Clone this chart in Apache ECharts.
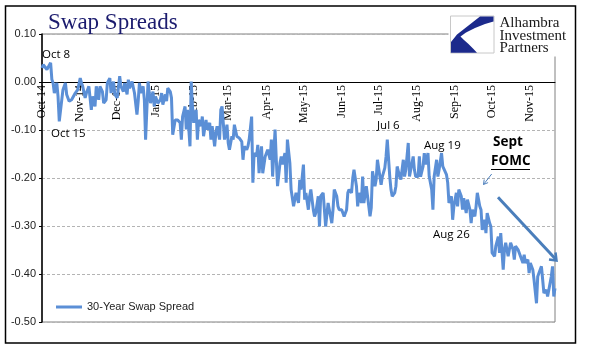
<!DOCTYPE html>
<html><head><meta charset="utf-8">
<script src="https://cdn.jsdelivr.net/npm/echarts@6/dist/echarts.min.js"></script>
<style>html,body{margin:0;padding:0;background:#fff}#c{width:598px;height:361px}</style>
</head><body><div id="c"></div>
<script>
// ---- data ----
const seriesName = '30-Year Swap Spread';
const baseDate = '2014-10-01';           // observation dates are stored as days after this date
const dayOffset = [0,1,4,7,8,9,10,12,13,14,17,18,19,20,22,24,25,27,29,31,32,33,35,36,38,40,41,43,44,46,47,49,50,52,53,55,56,58,59,61,63,64,66,67,69,70,71,73,75,77,78,
79,80,82,83,84,86,87,88,90,91,92,94,96,97,98,100,101,102,104,105,106,108,109,110,112,113,114,116,117,118,120,121,122,123,125,126,127,129,130,131,133,134,136,137,138,140,141,142,144,
145,146,147,148,150,151,152,154,155,156,158,159,160,162,163,164,166,167,168,170,171,172,174,175,176,178,179,181,182,183,185,186,187,189,190,191,193,194,195,197,198,199,201,202,204,205,206,208,209,210,212,213,214,216,217,218,220,221,222,224,225,
226,228,229,230,232,233,235,236,237,239,240,241,243,244,245,247,248,249,251,252,253,255,256,257,259,260,261,263,264,266,267,268,270,271,272,274,275,276,278,279,280,282,283,284,286,287,288,290,
291,293,294,295,297,298,299,301,302,303,305,306,307,309,310,311,313,314,316,317,318,320,321,322,324,325,326,328,329,330,332,333,334,336,337,338,340,341,342,344,345,347,348,349,351,352,353,355,356,357,359,360,361,363,364,
365,367,368,370,371,372,374,375,376,378,379,380,382,383,384,386,387,388,390,391,392,394,395,396,398,399,401,402,403,405,406,407,409,410,411,413,414,415,416];
const spread = [0.029,0.036,0.026,0.040,0.005,-0.002,-0.023,-0.002,-0.030,-0.082,-0.016,-0.009,-0.002,-0.026,-0.040,-0.037,-0.040,-0.023,-0.016,0.008,-0.002,-0.009,-0.033,-0.023,-0.009,-0.058,-0.030,-0.051,-0.009,-0.037,-0.009,-0.020,-0.044,-0.037,-0.002,0.008,-0.023,0.001,-0.026,-0.033,0.012,-0.009,-0.020,-0.002,-0.026,0.005,-0.013,0.001,-0.023,-0.068,-0.040,
-0.002,-0.023,-0.009,-0.037,-0.120,0.001,-0.023,-0.044,-0.020,-0.051,-0.030,-0.044,-0.037,-0.023,-0.047,-0.026,-0.040,-0.013,-0.020,-0.033,-0.110,-0.079,-0.082,-0.079,-0.085,-0.120,-0.072,-0.051,-0.099,-0.058,-0.134,0.001,-0.051,-0.085,-0.058,-0.120,-0.079,-0.092,-0.072,-0.113,-0.079,-0.099,-0.085,-0.120,-0.092,-0.134,-0.106,-0.092,-0.120,
-0.058,-0.051,-0.085,-0.120,-0.089,-0.127,-0.141,-0.113,-0.120,-0.089,-0.113,-0.113,-0.117,-0.124,-0.162,-0.134,-0.141,-0.134,-0.120,-0.072,-0.210,-0.148,-0.155,-0.131,-0.190,-0.134,-0.190,-0.155,-0.158,-0.141,-0.162,-0.120,-0.197,-0.099,-0.162,-0.217,-0.169,-0.155,-0.172,-0.148,-0.210,-0.120,-0.169,-0.224,-0.259,-0.245,-0.231,-0.252,-0.204,-0.224,-0.172,-0.245,-0.231,-0.266,-0.238,-0.224,-0.266,-0.280,-0.273,-0.238,-0.301,
-0.238,-0.231,-0.266,-0.301,-0.252,-0.266,-0.294,-0.266,-0.224,-0.238,-0.259,-0.266,-0.266,-0.273,-0.280,-0.266,-0.231,-0.224,-0.231,-0.200,-0.183,-0.217,-0.259,-0.231,-0.252,-0.197,-0.252,-0.217,-0.238,-0.280,-0.262,-0.186,-0.217,-0.203,-0.162,-0.197,-0.214,-0.197,-0.179,-0.155,-0.120,-0.197,-0.224,-0.238,-0.231,-0.217,-0.176,-0.197,
-0.203,-0.162,-0.197,-0.183,-0.127,-0.197,-0.193,-0.155,-0.183,-0.197,-0.197,-0.155,-0.197,-0.176,-0.148,-0.172,-0.148,-0.197,-0.224,-0.266,-0.197,-0.162,-0.197,-0.183,-0.148,-0.176,-0.179,-0.193,-0.210,-0.252,-0.238,-0.287,-0.259,-0.231,-0.259,-0.224,-0.238,-0.266,-0.242,-0.273,-0.245,-0.266,-0.294,-0.266,-0.280,-0.259,-0.231,-0.259,-0.266,-0.308,-0.287,-0.315,-0.273,-0.294,-0.301,
-0.356,-0.363,-0.342,-0.322,-0.356,-0.315,-0.391,-0.349,-0.335,-0.363,-0.349,-0.335,-0.349,-0.370,-0.342,-0.349,-0.346,-0.363,-0.377,-0.360,-0.377,-0.370,-0.398,-0.377,-0.391,-0.412,-0.461,-0.405,-0.398,-0.384,-0.412,-0.440,-0.433,-0.447,-0.447,-0.405,-0.384,-0.447,-0.430];
const axisEndDay = 416;
const monthTicks = ['2014-10-01','2014-11-01','2014-12-01','2015-01-01','2015-02-01','2015-03-01','2015-04-01','2015-05-01','2015-06-01','2015-07-01','2015-08-01','2015-09-01','2015-10-01','2015-11-01'];
const monthNames = ['Jan','Feb','Mar','Apr','May','Jun','Jul','Aug','Sep','Oct','Nov','Dec'];
const yMin = -0.5, yMax = 0.1, yStep = 0.1;

// ---- build ----
const DAY = 86400000;
const toTs = s => Date.parse(s + 'T00:00:00Z');
const t0 = toTs(baseDate);
const toDay = s => Math.round((toTs(s) - t0) / DAY);
const data = dayOffset.map((d, i) => [d, spread[i]]);
const tickDays = monthTicks.map(toDay);
const dayLabel = d => { const dt = new Date(t0 + d * DAY); return monthNames[dt.getUTCMonth()] + '-' + String(dt.getUTCFullYear()).slice(2); };

const W = 598, H = 361;
const gridTop = 34, gridBottom = 39;
const gridH = H - gridTop - gridBottom;
// move the category axis (line + labels) up to the zero line, as in the reference
const zeroOffset = -gridH * (0 - yMin) / (yMax - yMin);

const chart = echarts.init(document.getElementById('c'), null, {renderer: 'canvas'});
const annoFont = '11.5px "Open Sans"';
const boldFont = 'bold 13.5px "Open Sans"';
const txt = (text, x, y, font, extra) => ({type: 'text', z: 100, style: Object.assign({text, x, y, font, fill: '#000', align: 'left', verticalAlign: 'middle'}, extra || {})});

chart.setOption({
  animation: false,
  grid: {left: 42, right: 43, top: gridTop, bottom: gridBottom, show: true, borderColor: '#808080', borderWidth: 1},
  xAxis: {
    type: 'value', min: 0, max: axisEndDay, position: 'bottom', offset: zeroOffset,
    axisLine: {onZero: false, lineStyle: {color: '#000', width: 1}},
    axisTick: {show: false}, splitLine: {show: false},
    axisLabel: {
      customValues: tickDays, rotate: 90, margin: 3, showMinLabel: true, showMaxLabel: true,
      fontFamily: 'Liberation Serif', fontSize: 12, color: '#000', hideOverlap: false,
      formatter: v => dayLabel(v)
    }
  },
  yAxis: {
    type: 'value', min: yMin, max: yMax, interval: yStep,
    axisLine: {show: true, onZero: false, lineStyle: {color: '#000', width: 1.5}},
    axisTick: {show: true, length: 3, lineStyle: {color: '#000'}},
    axisLabel: {formatter: v => (Math.abs(v) < 1e-9 ? 0 : v).toFixed(2), fontFamily: 'Liberation Sans', fontSize: 11, color: '#222', margin: 6},
    splitLine: {lineStyle: {color: '#b4b4b4', type: [3, 2], width: 1}}
  },
  legend: {
    left: 51, top: 296.5, icon: 'rect', itemWidth: 26, itemHeight: 3,
    textStyle: {fontFamily: 'Liberation Sans', fontSize: 11, color: '#222'},
    data: [seriesName]
  },
  series: [{
    type: 'line', name: seriesName, data, showSymbol: false, symbol: 'none',
    lineStyle: {color: '#5b8fd6', width: 3}, itemStyle: {color: '#5b8fd6'}, z: 3
  }],
  graphic: [
    {type: 'rect', z: 100, shape: {x: 5.5, y: 6, width: 570, height: 337}, style: {fill: 'none', stroke: '#000', lineWidth: 1.5}},
    txt('Swap Spreads', 48, 23.3, '23px "Liberation Serif"', {fill: '#1b1b6e'}),
    {type: 'rect', z: 99, shape: {x: 448.5, y: 12, width: 125, height: 44.5}, style: {fill: '#fff'}},
    {type: 'rect', z: 100, shape: {x: 450.5, y: 16, width: 43.5, height: 37}, style: {fill: '#fff', stroke: '#c8c8c8', lineWidth: 1}},
    {type: 'polygon', z: 101, shape: {points: [[457,34.5],[480,16.5],[493.5,16.5],[493.5,21.5],[485,24],[475,28],[466,32.5],[460.5,36.5],[464,40],[468.5,44],[473,48.5],[477,52.8],[451,52.8],[451,42]]}, style: {fill: '#1c2a8c'}},
    txt('Alhambra', 499.5, 23.3, '15px "Liberation Serif"', {fill: '#1a1a1a'}),
    txt('Investment', 499.5, 36, '15px "Liberation Serif"', {fill: '#1a1a1a'}),
    txt('Partners', 499.5, 48.3, '15px "Liberation Serif"', {fill: '#1a1a1a'}),
    txt('Oct 8', 42, 55, annoFont),
    txt('Oct 15', 51, 134, annoFont),
    txt('Jul 6', 377, 126, annoFont),
    txt('Aug 19', 424, 146, annoFont),
    txt('Aug 26', 433, 235, annoFont),
    txt('Sept', 493, 142, boldFont),
    txt('FOMC', 491, 161.5, boldFont),
    {type: 'line', z: 100, shape: {x1: 491, y1: 169.5, x2: 530, y2: 169.5}, style: {stroke: '#000', lineWidth: 1.2}},
    {type: 'polyline', z: 100, shape: {points: [[491.7, 174], [483.5, 184.5]]}, style: {stroke: '#4f81bd', lineWidth: 1, fill: 'none'}},
    {type: 'polyline', z: 100, shape: {points: [[488.1, 182.6], [483.5, 184.5], [484.2, 179.5]]}, style: {stroke: '#4f81bd', lineWidth: 1, fill: 'none'}},
    {type: 'polyline', z: 100, shape: {points: [[498, 197.3], [556, 259.5]]}, style: {stroke: '#4a7ebb', lineWidth: 3, fill: 'none'}},
    {type: 'polyline', z: 100, shape: {points: [[549, 259.5], [556.5, 260.5], [555.5, 252.5]]}, style: {stroke: '#4a7ebb', lineWidth: 2.5, fill: 'none', lineJoin: 'miter'}}
  ]
});
</script></body></html>
